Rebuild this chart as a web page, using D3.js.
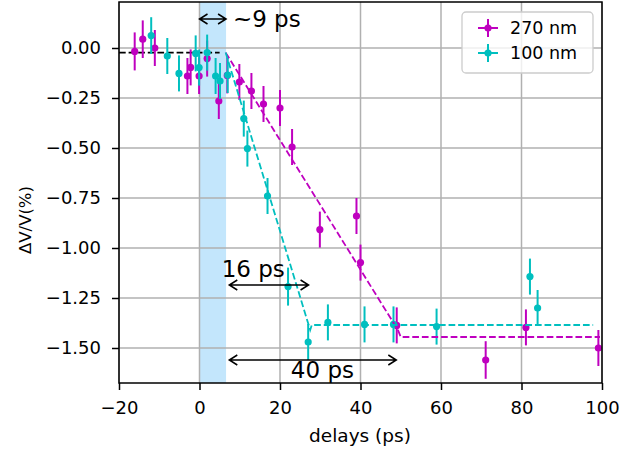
<!DOCTYPE html>
<html><head><meta charset="utf-8">
<script src="https://cdn.jsdelivr.net/npm/d3@7"></script>
<style>body{margin:0;background:#fff}svg{display:block}text{font-family:"DejaVu Sans",sans-serif}</style>
</head><body><svg id="c" width="620" height="453"></svg>
<script>
// ---- data ----
const xTicks = [-20, 0, 20, 40, 60, 80, 100];
const yTicks = [0, -0.25, -0.5, -0.75, -1.0, -1.25, -1.5];
const seriesNames = ["270 nm", "100 nm"];
const x270 = [-16.1, -14.1, -11.1, -3.0, -2.2, -0.1, 1.9, 4.8, 6.9, 9.9, 12.9, 15.9, 20.0, 23.0, 29.9, 39.0, 40.0, 49.0, 71.1, 81.1, 99.1];
const y270 = [-0.017, 0.044, 0.0, -0.14, -0.097, -0.14, -0.053, -0.265, -0.137, -0.17, -0.215, -0.28, -0.30, -0.495, -0.908, -0.84, -1.073, -1.387, -1.56, -1.397, -1.50];
const e270 = [0.095, 0.094, 0.09, 0.09, 0.09, 0.09, 0.09, 0.09, 0.09, 0.09, 0.09, 0.09, 0.09, 0.09, 0.09, 0.09, 0.09, 0.09, 0.094, 0.09, 0.09];
const x100 = [-12.0, -8.0, -5.1, -0.95, -0.1, 1.9, 4.0, 5.1, 7.0, 11.0, 11.9, 16.9, 22.0, 27.0, 31.9, 41.0, 48.2, 58.9, 82.1, 84.0];
const y100 = [0.062, -0.04, -0.127, -0.027, -0.098, -0.023, -0.14, -0.165, -0.135, -0.353, -0.503, -0.74, -1.193, -1.47, -1.372, -1.382, -1.382, -1.393, -1.143, -1.30];
const e100 = [0.092, 0.09, 0.09, 0.09, 0.09, 0.09, 0.09, 0.09, 0.09, 0.09, 0.09, 0.09, 0.095, 0.09, 0.09, 0.09, 0.09, 0.09, 0.09, 0.09];
const fitBaseX = [-20, 5.0], fitBaseY = [-0.023, -0.023];
const fit270X = [6.5, 49.3, 50.0, 99.5], fit270Y = [-0.023, -1.41, -1.445, -1.445];
const fit100X = [6.5, 27.5, 27.9, 97.8], fit100Y = [-0.023, -1.41, -1.385, -1.385];
const spanX = [0, 6.6];
const arrows = [ {x0: 0, x1: 6.6, y: 0.145, label: "~9 ps", lx: 8.3, ly: 0.105},
                 {x0: 7.4, x1: 27.1, y: -1.185, label: "16 ps", lx: 5.5, ly: -1.145},
                 {x0: 7.4, x1: 48.9, y: -1.56, label: "40 ps", lx: 22.7, ly: -1.65} ];
const colors = ["#bf00bf", "#00bfbf"];

// ---- layout ----
const svg = d3.select("#c");
const L = 119, R = 602, T = 2, B = 383;
const x = d3.scaleLinear().domain([-20, 100]).range([L, R]);
const y = d3.scaleLinear().domain([0.23, -1.675]).range([T, B]);

svg.append("rect").attr("x", x(spanX[0])).attr("y", T).attr("width", x(spanX[1]) - x(spanX[0])).attr("height", B - T).attr("fill", "#c3e6fc");

// grid
const g = svg.append("g");
g.selectAll(".gx").data(xTicks).join("line").attr("x1", d => x(d)).attr("x2", d => x(d)).attr("y1", T).attr("y2", B).attr("stroke", "#b0b0b0").attr("stroke-width", 1.5);
g.selectAll(".gy").data(yTicks).join("line").attr("y1", d => y(d)).attr("y2", d => y(d)).attr("x1", L).attr("x2", R).attr("stroke", "#b0b0b0").attr("stroke-width", 1.5);

// fit lines
const line = d3.line().x(d => x(d[0])).y(d => y(d[1]));
function dashed(xs, ys, col) {
  svg.append("path").attr("d", line(xs.map((v, i) => [v, ys[i]]))).attr("fill", "none").attr("stroke", col).attr("stroke-width", 1.8).attr("stroke-dasharray", "6.7,2.9");
}
dashed(fitBaseX, fitBaseY, "#000");

// errorbar series
function series(xs, ys, es, col) {
  const s = svg.append("g");
  xs.forEach((v, i) => {
    s.append("line").attr("x1", x(v)).attr("x2", x(v)).attr("y1", y(ys[i] + es[i])).attr("y2", y(ys[i] - es[i])).attr("stroke", col).attr("stroke-width", 2);
    s.append("circle").attr("cx", x(v)).attr("cy", y(ys[i])).attr("r", 3.6).attr("fill", col);
  });
}
series(x270, y270, e270, colors[0]);
series(x100, y100, e100, colors[1]);
dashed(fit270X, fit270Y, colors[0]);
dashed(fit100X, fit100Y, colors[1]);

// arrows
function arrow(a) {
  const X0 = x(a.x0), X1 = x(a.x1), Y = y(a.y);
  const p = d3.path();
  p.moveTo(X0, Y); p.lineTo(X1, Y);
  p.moveTo(X0 + 8, Y - 5); p.lineTo(X0, Y); p.lineTo(X0 + 8, Y + 5);
  p.moveTo(X1 - 8, Y - 5); p.lineTo(X1, Y); p.lineTo(X1 - 8, Y + 5);
  svg.append("path").attr("d", p.toString()).attr("fill", "none").attr("stroke", "#000").attr("stroke-width", 1.5);
  svg.append("text").attr("x", x(a.lx)).attr("y", y(a.ly)).attr("font-size", 23).attr("fill", "#000").text(a.label);
}
arrows.forEach(arrow);

// frame
svg.append("rect").attr("x", L).attr("y", T).attr("width", R - L).attr("height", B - T).attr("fill", "none").attr("stroke", "#000").attr("stroke-width", 1.5);

// axes
const ax = svg.append("g").attr("transform", `translate(0,${B})`).call(d3.axisBottom(x).tickValues(xTicks).tickSize(7).tickPadding(11).tickFormat(d => d < 0 ? "\u2212" + Math.abs(d) : d));
const ay = svg.append("g").attr("transform", `translate(${L},0)`).call(d3.axisLeft(y).tickValues(yTicks).tickSize(7).tickPadding(11).tickFormat(d => (d < 0 ? "\u2212" : "") + Math.abs(d).toFixed(2)));
[ax, ay].forEach(a => { a.select(".domain").remove(); a.selectAll("line").attr("stroke", "#000").attr("stroke-width", 1.5); a.selectAll("text").attr("font-size", 18).attr("fill", "#000").attr("font-family", "DejaVu Sans"); });

svg.append("text").attr("x", 360).attr("y", 442).attr("text-anchor", "middle").attr("font-size", 18.5).text("delays (ps)");
svg.append("text").attr("transform", "translate(31,220) rotate(-90)").attr("text-anchor", "middle").attr("font-size", 16.5).text("ΔV/V(%)");

// legend
const lg = svg.append("g");
lg.append("rect").attr("x", 462).attr("y", 12).attr("width", 131).attr("height", 61).attr("rx", 4).attr("fill", "#fff").attr("fill-opacity", 0.8).attr("stroke", "#cccccc").attr("stroke-width", 1.3);
seriesNames.forEach((n, i) => {
  const cy = 28 + i * 25;
  lg.append("line").attr("x1", 478).attr("x2", 498).attr("y1", cy).attr("y2", cy).attr("stroke", colors[i]).attr("stroke-width", 2);
  lg.append("line").attr("x1", 488).attr("x2", 488).attr("y1", cy - 9).attr("y2", cy + 9).attr("stroke", colors[i]).attr("stroke-width", 2);
  lg.append("circle").attr("cx", 488).attr("cy", cy).attr("r", 3.6).attr("fill", colors[i]);
  lg.append("text").attr("x", 510).attr("y", cy + 6).attr("font-size", 17.5).text(n);
});
</script></body></html>
